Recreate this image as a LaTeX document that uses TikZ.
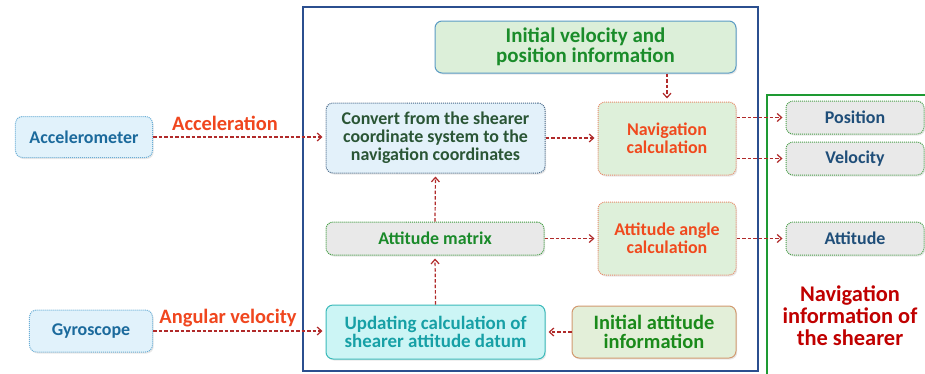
\documentclass[tikz,border=0pt]{standalone}
\usepackage{fontspec}
\setmainfont{Carlito}
\usetikzlibrary{arrows.meta,shadows}
\definecolor{accfill}{HTML}{E1F2FB}\definecolor{accdraw}{HTML}{6AAED6}\definecolor{acctext}{HTML}{1B6A9C}
\definecolor{convfill}{HTML}{E3F1FA}\definecolor{convdraw}{HTML}{4A6A8A}\definecolor{convtext}{HTML}{2A5535}
\definecolor{ivfill}{HTML}{DCEFD9}\definecolor{ivdraw}{HTML}{5A9BC4}\definecolor{ivtext}{HTML}{1A8C2A}
\definecolor{navfill}{HTML}{DEF0DA}\definecolor{navdraw}{HTML}{E88A6A}\definecolor{navtext}{HTML}{F04A1E}
\definecolor{amfill}{HTML}{E9E9E9}\definecolor{amdraw}{HTML}{3A9A3A}\definecolor{amtext}{HTML}{1A8A2A}
\definecolor{updfill}{HTML}{CCF5F5}\definecolor{upddraw}{HTML}{3BBABA}\definecolor{updtext}{HTML}{17A0A6}
\definecolor{iafill}{HTML}{E3EFD9}\definecolor{iadraw}{HTML}{D29A70}\definecolor{iatext}{HTML}{1A8A1A}
\definecolor{outfill}{HTML}{E9E9E9}\definecolor{outdraw}{HTML}{4AA04A}\definecolor{outtext}{HTML}{1F4E79}
\definecolor{navinfo}{HTML}{C00000}\definecolor{arr}{HTML}{B02A2A}\definecolor{lbl}{HTML}{F0461E}
\definecolor{blueframe}{HTML}{2B4F8F}\definecolor{greenframe}{HTML}{1E9A32}
\begin{document}
\begin{tikzpicture}[x=1bp,y=-1bp,
  box/.style={rounded corners=7bp,inner sep=0pt,line width=1bp,align=center,
    font=\bfseries\fontsize{18}{18}\selectfont,
    drop shadow={opacity=0.18,shadow xshift=1.2bp,shadow yshift=-1.5bp}},
  dotbox/.style={box,densely dotted},
  conn/.style={draw=arr,line width=1.2bp,dash pattern=on 3.5bp off 2bp,shorten >=3bp,
    -{Straight Barb[length=4.5bp,width=8bp,line width=1.2bp]}},
  lab/.style={text=lbl,font=\bfseries\fontsize{20.5}{20.5}\selectfont}]
\useasboundingbox (0,0) rectangle (925,373);
\fill[white] (0,0) rectangle (925,373);
\draw[blueframe,line width=1.5bp] (303,7) rectangle (758,371);
\draw[greenframe,line width=2bp] (767,95) rectangle (940,385);

\node[dotbox,fill=accfill,draw=accdraw,text=acctext,minimum width=137bp,minimum height=41bp] (acc) at (84,137) {Accelerometer};
\node[dotbox,fill=accfill,draw=accdraw,text=acctext,minimum width=123bp,minimum height=42bp] (gyro) at (91,331) {Gyroscope};
\node[dotbox,fill=convfill,draw=convdraw,text=convtext,minimum width=219bp,minimum height=70bp] (conv) at (435.5,138) {Convert from the shearer\\coordinate system to the\\navigation coordinates};
\node[box,fill=ivfill,draw=ivdraw,text=ivtext,minimum width=301bp,minimum height=52bp,font=\bfseries\fontsize{21}{20}\selectfont] (iv) at (585.5,47) {Initial velocity and\\position information};
\node[dotbox,fill=navfill,draw=navdraw,text=navtext,minimum width=138bp,minimum height=73bp] (nav) at (667,138.5) {Navigation\\calculation};
\node[dotbox,fill=amfill,draw=amdraw,text=amtext,minimum width=218bp,minimum height=33bp] (am) at (435,238.5) {Attitude matrix};
\node[dotbox,fill=navfill,draw=navdraw,text=navtext,minimum width=138bp,minimum height=73bp] (aac) at (667,238.5) {Attitude angle\\calculation};
\node[box,fill=updfill,draw=upddraw,text=updtext,minimum width=219bp,minimum height=54bp,font=\bfseries\fontsize{19}{18}\selectfont] (upd) at (435.5,332) {Updating calculation of\\shearer attitude datum};
\node[box,fill=iafill,draw=iadraw,text=iatext,minimum width=164bp,minimum height=52bp,font=\bfseries\fontsize{20.5}{18.5}\selectfont] (ia) at (654,332) {Initial attitude\\information};
\node[dotbox,fill=outfill,draw=outdraw,text=outtext,minimum width=138bp,minimum height=33bp] (pos) at (855,117.5) {Position};
\node[dotbox,fill=outfill,draw=outdraw,text=outtext,minimum width=138bp,minimum height=33bp] (vel) at (855,158.5) {Velocity};
\node[dotbox,fill=outfill,draw=outdraw,text=outtext,minimum width=138bp,minimum height=33bp] (att) at (855,238.5) {Attitude};
\node[text=navinfo,align=center,font=\bfseries\fontsize{22.5}{22}\selectfont] (info) at (850,316) {Navigation\\information of\\the shearer};

\node[lab] (lacc) at (225,123) {Acceleration};
\node[lab] (lang) at (228,318) {Angular velocity};

\draw[conn] (acc.east) -- (conv.west |- acc.east);
\draw[conn] (conv.east) -- (nav.west |- conv.east);
\draw[conn] (iv.south -| nav.north) -- (nav.north);
\draw[conn] (nav.east |- pos.west) -- (pos.west);
\draw[conn] (nav.east |- vel.west) -- (vel.west);
\draw[conn] (am.north) -- (conv.south);
\draw[conn] (am.east) -- (aac.west);
\draw[conn] (aac.east) -- (att.west);
\draw[conn] (upd.north) -- (am.south);
\draw[conn] (ia.west) -- (upd.east);
\draw[conn] (gyro.east) -- (upd.west |- gyro.east);
\end{tikzpicture}
\end{document}
